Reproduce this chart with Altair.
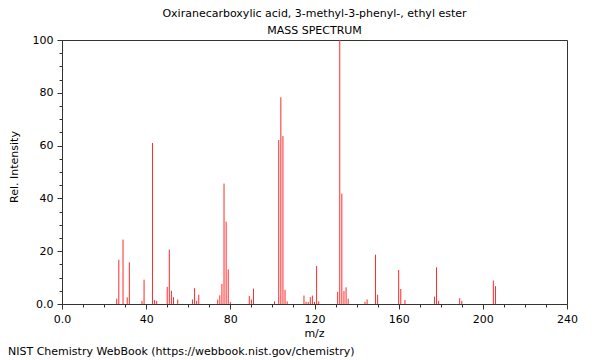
import altair as alt
import pandas as pd

mz = [26, 27, 29, 31, 32, 38, 39, 43, 44, 45, 50, 51, 52, 53, 55,
      62, 63, 64, 65, 74, 75, 76, 77, 78, 79, 80, 89, 90, 91,
      101, 103, 104, 105, 106, 107, 115, 116, 117, 118, 119, 120, 121, 122,
      131, 132, 133, 134, 135, 136, 144, 145, 149, 150, 160, 161, 163,
      177, 178, 179, 189, 190, 205, 206]
intensity = [2.0, 16.8, 24.4, 2.5, 15.8, 1.2, 9.2, 61.0, 1.5, 1.2, 6.5, 20.6, 5.0, 2.6, 1.7,
             1.7, 6.0, 1.2, 3.5, 1.7, 3.3, 7.6, 45.6, 31.2, 13.1, 0.8, 3.0, 1.7, 5.8,
             1.0, 62.1, 78.3, 63.6, 5.4, 1.0, 3.2, 0.8, 0.8, 2.6, 3.2, 0.8, 14.4, 1.0,
             4.6, 100.0, 41.8, 4.9, 6.3, 2.0, 0.8, 1.7, 18.7, 3.5, 12.9, 5.7, 1.5,
             2.8, 13.9, 1.2, 2.2, 1.2, 8.9, 6.8]

x_ticks = list(range(0, 241, 10))
y_ticks = list(range(0, 101, 5))

title_line1 = "Oxiranecarboxylic acid, 3-methyl-3-phenyl-, ethyl ester"
title_line2 = "MASS SPECTRUM"
footer = "NIST Chemistry WebBook (https://webbook.nist.gov/chemistry)"

df = pd.DataFrame({"mz": mz, "intensity": intensity, "zero": [0] * len(mz)})

W, H = 505, 264
FONT = "DejaVu Sans"

bars = alt.Chart(df).mark_rule(color="#ff2a2a", strokeWidth=1).encode(
    x=alt.X("mz:Q", scale=alt.Scale(domain=[0, 240], nice=False, zero=False),
            axis=alt.Axis(values=x_ticks, title=None, grid=False, labelFlush=False,
                          labelOverlap=False,
                          labelExpr="datum.value % 40 === 0 ? (datum.value === 0 ? '0.0' : datum.label) : ''",
                          tickSize=alt.ExprRef(expr="datum.value % 40 === 0 ? 5 : 3"),
                          labelFont=FONT, labelFontSize=11, labelColor="black",
                          domainColor="#333", tickColor="#333", labelPadding=4)),
    y=alt.Y("intensity:Q", scale=alt.Scale(domain=[0, 100], nice=False),
            axis=alt.Axis(values=y_ticks, title=None, grid=False, labelFlush=False,
                          labelOverlap=False,
                          labelExpr="datum.value % 20 === 0 ? (datum.value === 0 ? '0.0' : datum.label) : ''",
                          tickSize=alt.ExprRef(expr="datum.value % 20 === 0 ? 5 : 3"),
                          labelFont=FONT, labelFontSize=11, labelColor="black",
                          domainColor="#333", tickColor="#333", labelPadding=4)),
    y2="zero:Q",
)

def txt(text, x, y, size=11, align="center", angle=0):
    return alt.Chart(pd.DataFrame({"t": [text]})).mark_text(
        font=FONT, fontSize=size, align=align, baseline="middle", color="black", angle=angle
    ).encode(text="t:N", x=alt.value(x), y=alt.value(y))

texts = (txt(title_line1, W / 2, -26, 11)
         + txt(title_line2, W / 2, -9, 11)
         + txt("m/z", W / 2, 294, 11)
         + txt("Rel. Intensity", -47, 127, 11, angle=270)
         + txt(footer, -54, 312, 11, align="left"))

chart = alt.layer(bars, texts).properties(
    width=W, height=H,
    autosize=alt.AutoSizeParams(type="none"),
    padding={"left": 54, "top": 32, "right": 25, "bottom": 56},
).configure_view(stroke="#333", strokeWidth=1)

chart.save("out.html", embed_options={"renderer": "svg", "actions": False})
